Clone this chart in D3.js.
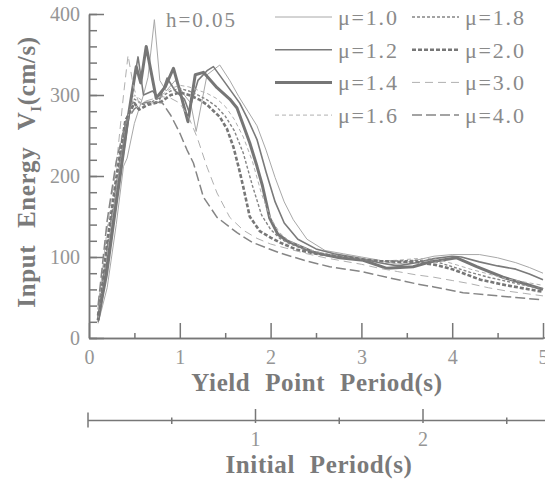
<!DOCTYPE html>
<html>
<head>
<meta charset="utf-8">
<script src="https://cdn.jsdelivr.net/npm/d3@7"></script>
<style>
  body { margin: 0; background: #fff; }
  svg text { font-family: "Liberation Serif", "Times New Roman", serif; }
</style>
</head>
<body>
<script>
// ductility factors and their input energy spectra, [yield point period (s), V_I (cm/s)]
const muLabels = ['μ=1.0', 'μ=1.2', 'μ=1.4', 'μ=1.6', 'μ=1.8', 'μ=2.0', 'μ=3.0', 'μ=4.0']

const mu10 = [[0.1, 18], [0.2, 62], [0.3, 140], [0.38, 212], [0.42, 222], [0.5, 265], [0.6, 300], [0.65, 322], [0.72, 393], [0.78, 318], [0.85, 305], [0.95, 318], [1.05, 300], [1.12, 290], [1.18, 255], [1.3, 325], [1.44, 337], [1.55, 318], [1.65, 298], [1.75, 280], [1.85, 262], [1.95, 232], [2.05, 198], [2.15, 168], [2.25, 146], [2.4, 122], [2.6, 108], [2.8, 104], [3.0, 100], [3.2, 96], [3.4, 91], [3.6, 96], [3.8, 101], [4.0, 103], [4.3, 103], [4.5, 99], [4.7, 93], [4.85, 87], [5.0, 80]]
const mu12 = [[0.1, 20], [0.2, 78], [0.3, 160], [0.4, 240], [0.47, 300], [0.54, 347], [0.6, 300], [0.7, 305], [0.78, 295], [0.86, 321], [0.95, 305], [1.05, 295], [1.1, 280], [1.2, 318], [1.3, 330], [1.37, 335], [1.5, 315], [1.66, 290], [1.75, 270], [1.85, 245], [1.95, 205], [2.05, 168], [2.15, 142], [2.3, 122], [2.5, 110], [2.7, 104], [3.0, 98], [3.2, 93], [3.4, 89], [3.6, 93], [3.8, 98], [4.0, 101], [4.1, 100], [4.3, 94], [4.5, 89], [4.7, 85], [4.85, 79], [5.0, 72]]
const mu14 = [[0.1, 22], [0.2, 92], [0.3, 172], [0.4, 250], [0.47, 300], [0.52, 335], [0.57, 315], [0.63, 360], [0.74, 296], [0.84, 310], [0.93, 333], [1.0, 305], [1.09, 267], [1.17, 325], [1.26, 328], [1.41, 309], [1.55, 295], [1.63, 284], [1.77, 241], [1.85, 212], [1.91, 188], [1.99, 148], [2.08, 128], [2.18, 120], [2.47, 106], [2.76, 99], [3.02, 96], [3.28, 86], [3.57, 88], [3.76, 94], [4.05, 99], [4.27, 88], [4.56, 75], [4.8, 67], [5.0, 60]]
const mu16 = [[0.1, 25], [0.2, 105], [0.3, 185], [0.4, 262], [0.5, 300], [0.6, 292], [0.7, 290], [0.8, 300], [0.9, 308], [1.0, 312], [1.1, 310], [1.2, 306], [1.3, 302], [1.4, 296], [1.5, 286], [1.6, 270], [1.7, 248], [1.8, 218], [1.9, 178], [2.0, 148], [2.1, 130], [2.2, 120], [2.4, 110], [2.6, 104], [2.8, 101], [3.0, 98], [3.2, 95], [3.4, 96], [3.6, 98], [3.8, 98], [4.0, 92], [4.2, 85], [4.4, 79], [4.6, 73], [4.8, 69], [5.0, 65]]
const mu18 = [[0.1, 27], [0.2, 112], [0.3, 192], [0.4, 266], [0.5, 295], [0.6, 288], [0.7, 292], [0.8, 298], [0.9, 305], [1.0, 308], [1.1, 305], [1.2, 300], [1.3, 294], [1.4, 286], [1.5, 274], [1.6, 256], [1.7, 228], [1.8, 188], [1.9, 152], [2.0, 134], [2.1, 123], [2.2, 117], [2.4, 108], [2.6, 103], [2.8, 100], [3.0, 97], [3.2, 95], [3.4, 95], [3.6, 96], [3.8, 95], [4.0, 88], [4.2, 81], [4.4, 75], [4.6, 70], [4.8, 65], [5.0, 61]]
const mu20 = [[0.1, 28], [0.2, 118], [0.3, 198], [0.4, 268], [0.5, 290], [0.55, 282], [0.65, 288], [0.8, 292], [0.9, 300], [1.0, 303], [1.1, 300], [1.22, 294], [1.3, 288], [1.44, 273], [1.52, 258], [1.59, 236], [1.65, 210], [1.7, 186], [1.77, 150], [1.88, 132], [2.0, 124], [2.1, 118], [2.29, 109], [2.5, 104], [2.8, 100], [3.0, 97], [3.2, 95], [3.4, 94], [3.6, 94], [3.83, 90], [4.0, 85], [4.31, 72], [4.6, 65], [4.8, 61], [5.0, 57]]
const mu30 = [[0.1, 35], [0.2, 135], [0.3, 212], [0.38, 300], [0.43, 349], [0.49, 310], [0.55, 290], [0.7, 295], [0.8, 298], [0.9, 296], [1.0, 290], [1.1, 272], [1.19, 248], [1.3, 211], [1.41, 179], [1.55, 149], [1.7, 133], [1.85, 123], [2.0, 116], [2.2, 110], [2.4, 104], [2.6, 99], [2.8, 95], [3.0, 91], [3.2, 86], [3.4, 82], [3.6, 78], [3.8, 75], [4.0, 71], [4.2, 67], [4.4, 62], [4.6, 58], [4.8, 55], [5.0, 52]]
const mu40 = [[0.1, 40], [0.2, 145], [0.3, 218], [0.4, 265], [0.5, 283], [0.6, 290], [0.7, 292], [0.81, 290], [0.9, 275], [1.0, 253], [1.08, 232], [1.15, 216], [1.26, 174], [1.41, 149], [1.63, 130], [1.8, 118], [2.1, 105], [2.4, 95], [2.65, 88], [3.0, 82], [3.28, 75], [3.6, 67], [3.8, 63], [4.12, 56], [4.4, 53], [4.7, 50], [5.0, 47]]

const seriesData = [mu10, mu12, mu14, mu16, mu18, mu20, mu30, mu40]
const yTicks = [0, 100, 200, 300, 400]
const xTicks = [0, 1, 2, 3, 4, 5]
const initTicks = [1, 2]

// line look per series, same order as muLabels
const styles = [
  { color: '#a8a8a8', width: 1, dash: null },
  { color: '#7a7a7a', width: 1.6, dash: null },
  { color: '#767676', width: 3, dash: null },
  { color: '#b0b0b0', width: 1, dash: '4,3' },
  { color: '#858585', width: 1.4, dash: '3,2' },
  { color: '#777', width: 2.6, dash: '4,2' },
  { color: '#b0b0b0', width: 1, dash: '8,5' },
  { color: '#858585', width: 1.5, dash: '10,4' }
]

const W = 545
const H = 483
const axisColor = '#777'
const labelColor = '#959595'
const serif = '"Liberation Serif", "Times New Roman", serif'

const svg = d3.select('body').append('svg')
  .attr('width', W)
  .attr('height', H)
  .attr('font-family', serif)

const x = d3.scaleLinear().domain([0, 5]).range([89, 543])
const y = d3.scaleLinear().domain([0, 400]).range([338, 14])
// initial period axis underneath
const xi = d3.scaleLinear().domain([0, 1]).range([88, 255.5])

// y axis: major + minor inward ticks
const yAxisG = svg.append('g').attr('transform', 'translate(' + x(0) + ',0)')
yAxisG.append('g')
  .call(d3.axisLeft(y).tickValues(d3.range(0, 401, 20)).tickSizeInner(-8).tickSizeOuter(0).tickFormat(''))
yAxisG.append('g')
  .call(d3.axisLeft(y).tickValues(yTicks).tickSizeInner(-15).tickSizeOuter(0).tickPadding(9))

// x axis
const xAxisG = svg.append('g').attr('transform', 'translate(0,' + y(0) + ')')
xAxisG.append('g')
  .call(d3.axisBottom(x).tickValues(d3.range(0.5, 5, 1)).tickSizeInner(-5).tickSizeOuter(0).tickFormat(''))
xAxisG.append('g')
  .call(d3.axisBottom(x).tickValues(xTicks).tickSizeInner(-15).tickSizeOuter(0).tickPadding(12).tickFormat(d3.format('d')))
xAxisG.append('line')
  .attr('x1', x(5)).attr('x2', W)
  .attr('stroke', axisColor).attr('stroke-width', 1.5)

svg.selectAll('g').attr('font-family', serif)
svg.selectAll('.domain').attr('stroke', axisColor).attr('stroke-width', 1.5)
svg.selectAll('.tick line').attr('stroke', axisColor).attr('stroke-width', 1.5)
svg.selectAll('.tick text')
  .attr('fill', labelColor)
  .style('font-family', serif)
  .style('font-size', '20px')

// secondary axis: initial period
const initY = 420.5
const initG = svg.append('g').attr('transform', 'translate(0,' + initY + ')')
initG.append('line')
  .attr('x1', xi(0)).attr('x2', W)
  .attr('stroke', axisColor).attr('stroke-width', 1.5)
initG.selectAll('line.major')
  .data(initTicks)
  .enter().append('line')
  .attr('class', 'major')
  .attr('x1', d => xi(d)).attr('x2', d => xi(d))
  .attr('y1', -11.5).attr('y2', 2.5)
  .attr('stroke', axisColor).attr('stroke-width', 1.5)
initG.selectAll('line.minor')
  .data([0.5, 1.5, 2.5])
  .enter().append('line')
  .attr('class', 'minor')
  .attr('x1', d => xi(d)).attr('x2', d => xi(d))
  .attr('y1', -3).attr('y2', 3.5)
  .attr('stroke', axisColor).attr('stroke-width', 1.5)
initG.append('line')
  .attr('x1', xi(0)).attr('x2', xi(0))
  .attr('y1', -8).attr('y2', 7)
  .attr('stroke', axisColor).attr('stroke-width', 1.5)
initG.selectAll('text')
  .data(initTicks)
  .enter().append('text')
  .attr('x', d => xi(d))
  .attr('y', 25)
  .attr('text-anchor', 'middle')
  .attr('fill', labelColor)
  .style('font-size', '20px')
  .text(d => d)

// curves
const line = d3.line()
  .x(d => x(d[0]))
  .y(d => y(d[1]))

seriesData.forEach(function (data, i) {
  const s = styles[i]
  svg.append('path')
    .datum(data)
    .attr('d', line)
    .attr('fill', 'none')
    .attr('stroke', s.color)
    .attr('stroke-width', s.width)
    .attr('stroke-dasharray', s.dash)
    .attr('stroke-linejoin', 'round')
})

// legend, two columns of four
const legend = svg.append('g')
muLabels.forEach(function (lab, i) {
  const s = styles[i]
  const col = Math.floor(i / 4)
  const row = i % 4
  const lx = col === 0 ? 275 : 412
  const lw = col === 0 ? 57 : 47
  const ly = 17 + row * 32.7
  legend.append('line')
    .attr('x1', lx).attr('x2', lx + lw)
    .attr('y1', ly).attr('y2', ly)
    .attr('stroke', s.color)
    .attr('stroke-width', s.width)
    .attr('stroke-dasharray', s.dash)
  legend.append('text')
    .attr('x', lx + lw + 6)
    .attr('y', ly + 8)
    .attr('fill', '#8a8a8a')
    .style('font-size', '22px')
    .style('letter-spacing', '1.8px')
    .text(lab)
})

svg.append('text')
  .attr('x', 166).attr('y', 27)
  .attr('fill', '#8a8a8a')
  .style('font-size', '21px')
  .style('letter-spacing', '2px')
  .text('h=0.05')

// axis titles
const titleStyle = sel => sel
  .attr('fill', '#7a7a7a')
  .attr('text-anchor', 'middle')
  .style('font-weight', 'bold')
  .style('font-size', '25px')
  .style('letter-spacing', '0.6px')
  .style('word-spacing', '8px')

svg.append('text')
  .attr('x', 317).attr('y', 391)
  .call(titleStyle)
  .text('Yield Point Period(s)')

svg.append('text')
  .attr('x', 319).attr('y', 473)
  .call(titleStyle)
  .text('Initial Period(s)')

const yt = svg.append('text')
  .attr('transform', 'translate(35,172) rotate(-90)')
  .call(titleStyle)
  .style('word-spacing', '10px')
yt.append('tspan').text('Input Energy V')
yt.append('tspan').attr('dy', 6).style('font-size', '15px').text('I')
yt.append('tspan').attr('dy', -6).text('(cm/s)')
</script>
</body>
</html>
